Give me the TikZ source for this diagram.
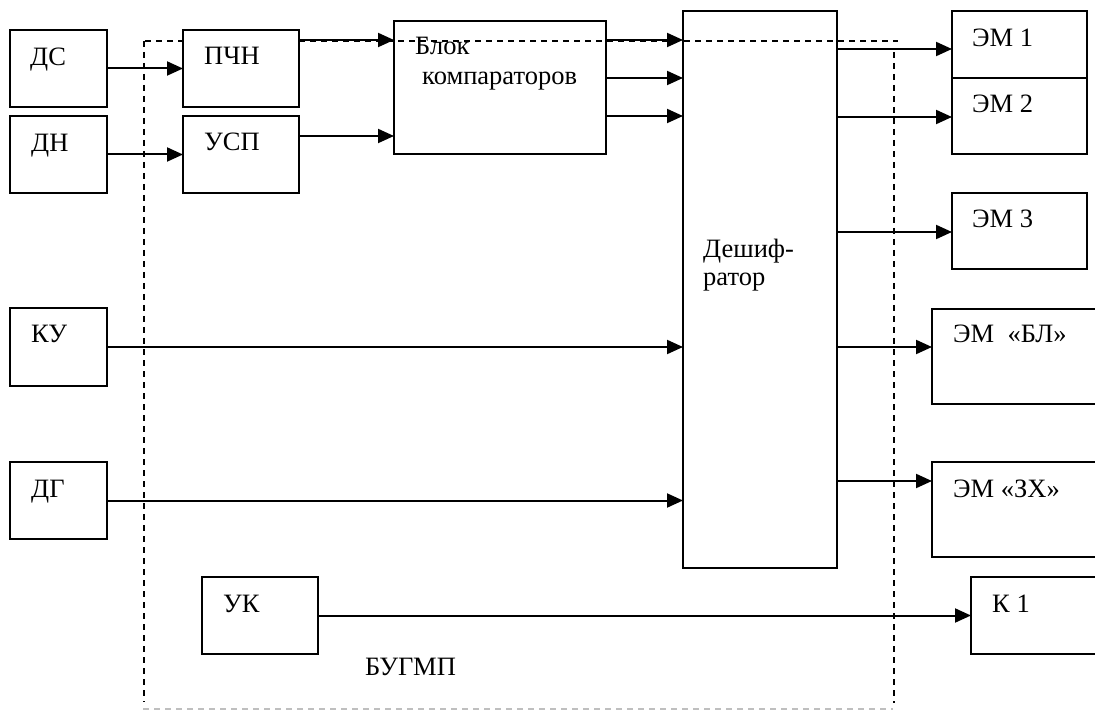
\documentclass[tikz,border=0pt]{standalone}
\usepackage{fontspec}
\setmainfont{Liberation Serif}
\usetikzlibrary{arrows.meta}
\begin{document}
\begin{tikzpicture}[x=1pt,y=-1pt,
  box/.style={draw,line width=2pt,anchor=north west,inner sep=0pt,outer sep=0pt},
  lbl/.style={anchor=base west,inner sep=0pt,font=\fontsize{26.5}{30}\selectfont},
  arr/.style={line width=2pt,-{Triangle[length=16pt,width=14pt]}},
  dsh/.style={line width=1.6pt,dash pattern=on 6pt off 5pt}]
\useasboundingbox (0,0) rectangle (1095,711);
\clip (0,0) rectangle (1095,711);
% dashed frame
\draw[dsh] (145,41) -- (898,41);
\draw[dsh] (144,41) -- (144,702);
\draw[dsh] (894,52) -- (894,703);
\draw[dsh,black!25] (143,709) -- (893,709);
% boxes
\node[box,minimum width=97pt,minimum height=77pt] (ds) at (10,30) {};
\node[box,minimum width=97pt,minimum height=77pt] (dn) at (10,116) {};
\node[box,minimum width=97pt,minimum height=78pt] (ku) at (10,308) {};
\node[box,minimum width=97pt,minimum height=77pt] (dg) at (10,462) {};
\node[box,fill=white,minimum width=116pt,minimum height=77pt] (pchn) at (183,30) {};
\node[box,minimum width=116pt,minimum height=77pt] (usp) at (183,116) {};
\node[box,minimum width=116pt,minimum height=77pt] (uk) at (202,577) {};
\node[box,minimum width=212pt,minimum height=133pt] (blok) at (394,21) {};
\node[box,minimum width=154pt,minimum height=557pt] (desh) at (683,11) {};
\node[box,minimum width=135pt,minimum height=67pt] (em1) at (952,11) {};
\node[box,minimum width=135pt,minimum height=76pt] (em2) at (952,78) {};
\node[box,minimum width=135pt,minimum height=76pt] (em3) at (952,193) {};
\node[box,minimum width=180pt,minimum height=95pt] (embl) at (932,309) {};
\node[box,minimum width=180pt,minimum height=95pt] (emzh) at (932,462) {};
\node[box,minimum width=140pt,minimum height=77pt] (k1) at (971,577) {};
% texts
\node[lbl] (tds) at (30,66) {ДС};
\node[lbl] (tdn) at (31,152) {ДН};
\node[lbl] (tku) at (31,342) {КУ};
\node[lbl] (tdg) at (31,497) {ДГ};
\node[lbl] (tpchn) at (204,65) {ПЧН};
\node[lbl] (tusp) at (204,151) {УСП};
\node[lbl] (tuk) at (223,612) {УК};
\node[lbl] (tblok1) at (415,55) {Блок};
\node[lbl] (tblok2) at (422,85) {компараторов};
\node[lbl] (tdesh1) at (703,258) {Дешиф-};
\node[lbl] (tdesh2) at (703,286) {ратор};
\node[lbl] (tem1) at (972,47) {ЭМ 1};
\node[lbl] (tem2) at (972,113) {ЭМ 2};
\node[lbl] (tem3) at (972,228) {ЭМ 3};
\node[lbl] (tembl) at (953,342) {ЭМ\ \ «БЛ»};
\node[lbl] (temzh) at (953,497) {ЭМ «ЗХ»};
\node[lbl] (tk1) at (992,612) {К 1};
\node[lbl] (tbug) at (365,675) {БУГМП};
% connectors
\draw[arr] (ds.east) -- (pchn.west);
\draw[arr] (dn.east) -- (usp.west);
\draw[arr] (pchn.east |- 0,40) -- (blok.west |- 0,40);
\draw[arr] (usp.east |- 0,136) -- (blok.west |- 0,136);
\draw[arr] (blok.east |- 0,40) -- (desh.west |- 0,40);
\draw[arr] (blok.east |- 0,78) -- (desh.west |- 0,78);
\draw[arr] (blok.east |- 0,116) -- (desh.west |- 0,116);
\draw[arr] (ku.east) -- (desh.west |- ku.east);
\draw[arr] (dg.east) -- (desh.west |- dg.east);
\draw[arr] (uk.east) -- (k1.west);
\draw[arr] (desh.east |- 0,49) -- (em1.west |- 0,49);
\draw[arr] (desh.east |- 0,117) -- (em2.west |- 0,117);
\draw[arr] (desh.east |- 0,232) -- (em3.west |- 0,232);
\draw[arr] (desh.east |- 0,347) -- (embl.west |- 0,347);
\draw[arr] (desh.east |- 0,481) -- (emzh.west |- 0,481);
\end{tikzpicture}
\end{document}
